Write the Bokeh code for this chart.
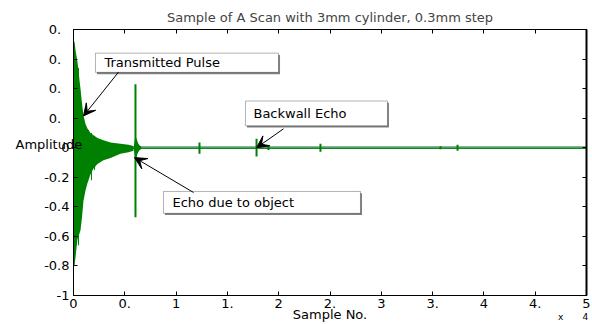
from bokeh.plotting import figure
from bokeh.models import (Range1d, LinearAxis, FixedTicker, Label, Arrow, VeeHead,
                          BoxAnnotation)
from bokeh.embed import file_html
from bokeh.resources import INLINE

# ---------------- data ----------------
title_text = "Sample of A Scan with 3mm cylinder, 0.3mm step"
x_label = "Sample No."
y_label = "Amplitude"

# transmitted pulse envelope (sample no., amplitude)
pulse_x = [0, 100, 200, 290, 390, 490, 580, 680, 830, 970, 1170, 1360, 1660, 1950,
           2340, 2920, 3610, 4580, 5360, 5850]
pulse_hi = [0.70, 0.72, 0.66, 0.62, 0.58, 0.52, 0.46, 0.40, 0.30, 0.22, 0.16, 0.13,
            0.10, 0.085, 0.065, 0.05, 0.035, 0.027, 0.02, 0.012]
pulse_lo = [-0.78, -0.80, -0.74, -0.68, -0.62, -0.60, -0.58, -0.56, -0.47, -0.36,
            -0.29, -0.24, -0.18, -0.14, -0.11, -0.085, -0.07, -0.04, -0.03, -0.02]

# thin excursions inside the pulse tail
tail_x = [490, 1460, 1750, 2050]
tail_hi = [0.54, 0.12, 0.10, 0.08]
tail_lo = [-0.66, -0.20, -0.22, -0.15]

# ringing around the object echo
ring_x = [5900, 6000, 6100, 6200, 6300, 6450, 6600]
ring_hi = [0.02, 0.06, 0.07, 0.05, 0.03, 0.015, 0.008]
ring_lo = [-0.02, -0.06, -0.08, -0.05, -0.03, -0.015, -0.008]

# isolated spikes (object echo, backwall echo, later reflections)
spike_x = [6040, 12280, 17840, 19000, 24070, 35770, 37430]
spike_hi = [0.43, 0.036, 0.06, 0.015, 0.027, 0.01, 0.02]
spike_lo = [-0.47, -0.04, -0.06, -0.015, -0.027, -0.01, -0.02]

# baseline traces
base_x = [0, 50000]
base_y = [0, 0]

x_ticks = [0, 5000, 10000, 15000, 20000, 25000, 30000, 35000, 40000, 45000, 50000]
x_tick_labels = ["0", "0.", "1", "1.", "2", "2.", "3", "3.", "4", "4.", "5"]
y_ticks = [-1, -0.8, -0.6, -0.4, -0.2, 0, 0.2, 0.4, 0.6, 0.8]
y_tick_labels = ["-1", "-0.8", "-0.6", "-0.4", "-0.2", "0",
                 "0.\u2007", "0.\u2007", "0.\u2007", "0.\u2007"]
# exponent note at the lower right ("x 10^4", mostly cut off in the original)
exp_pos = [47470, 49900]
exp_text = ["x", "4"]

FONT = "DejaVu Sans"
FS = "13px"
GREEN = "#008000"

p = figure(width=592, height=324, x_range=Range1d(0, 50000), y_range=Range1d(-1, 0.8),
           output_backend="svg", toolbar_location=None,
           min_border_left=73, min_border_right=6, min_border_top=29, min_border_bottom=27,
           background_fill_color="white", border_fill_color="white")
p.grid.visible = False
p.outline_line_color = "black"

p.title.text = title_text
p.title.align = "center"
p.title.text_font = FONT
p.title.text_font_size = FS
p.title.text_font_style = "normal"

def style_axis(ax, show_labels):
    ax.axis_line_color = "black"
    ax.major_tick_in = 4
    ax.major_tick_out = 0
    ax.minor_tick_line_color = None
    ax.minor_tick_in = 0
    ax.minor_tick_out = 0
    ax.major_tick_line_color = "black"
    ax.major_label_text_font = FONT
    ax.major_label_text_color = "black"
    ax.axis_label_text_font = FONT
    ax.axis_label_text_font_size = FS
    ax.axis_label_text_font_style = "normal"
    ax.axis_label_text_color = "black"
    if show_labels:
        ax.major_label_text_font_size = FS
        ax.major_label_standoff = 4
    else:
        ax.major_label_text_font_size = "1px"
        ax.major_label_text_color = None
        ax.major_label_standoff = 0

xa = p.xaxis[0]
xa.ticker = FixedTicker(ticks=x_ticks)
xa.major_label_overrides = dict(zip(x_ticks, x_tick_labels))
style_axis(xa, True)
xa.major_label_standoff = 3

ya = p.yaxis[0]
ya.ticker = FixedTicker(ticks=y_ticks)
ya.major_label_overrides = dict(zip(y_ticks, y_tick_labels))
style_axis(ya, True)
ya.axis_label = y_label + "\n\n"
ya.axis_label_orientation = "horizontal"
ya.axis_label_standoff = -41

top_ax = LinearAxis(ticker=FixedTicker(ticks=x_ticks))
style_axis(top_ax, False)
p.add_layout(top_ax, "above")
right_ax = LinearAxis(ticker=FixedTicker(ticks=y_ticks))
style_axis(right_ax, False)
right_ax.axis_line_width = 2
p.add_layout(right_ax, "right")

# second bare axis below: exponent note as tick labels + the x-axis title
exp_ax = LinearAxis(ticker=FixedTicker(ticks=exp_pos),
                    major_label_overrides=dict(zip(exp_pos, exp_text)))
exp_ax.axis_line_color = None
exp_ax.major_tick_line_color = None
exp_ax.minor_tick_line_color = None
exp_ax.major_tick_in = 0
exp_ax.major_tick_out = 0
exp_ax.minor_tick_in = 0
exp_ax.minor_tick_out = 0
exp_ax.major_label_text_font = FONT
exp_ax.major_label_text_font_size = "9px"
exp_ax.major_label_text_color = "black"
exp_ax.major_label_standoff = 1
exp_ax.axis_label = x_label
exp_ax.axis_label_text_font = FONT
exp_ax.axis_label_text_font_size = FS
exp_ax.axis_label_text_font_style = "normal"
exp_ax.axis_label_text_color = "black"
exp_ax.axis_label_standoff = -18
p.add_layout(exp_ax, "below")

# ---------------- signal ----------------
p.line(base_x, base_y, line_color=GREEN, line_width=2.5)
p.line(base_x, base_y, line_color="#8aa6cf", line_width=1, line_alpha=0.8)
p.varea(x=pulse_x, y1=pulse_lo, y2=pulse_hi, fill_color=GREEN)
p.segment(x0=tail_x, y0=tail_lo, x1=tail_x, y1=tail_hi, line_color=GREEN, line_width=1)
p.varea(x=ring_x, y1=ring_lo, y2=ring_hi, fill_color=GREEN)
p.segment(x0=spike_x, y0=spike_lo, x1=spike_x, y1=spike_hi, line_color=GREEN, line_width=2)

# ---------------- annotations ----------------
def text_box(left, right, top, bottom, text, tx):
    shadow = BoxAnnotation(left=left + 150, right=right + 150, top=top - 0.012,
                           bottom=bottom - 0.012, fill_color="#808080", fill_alpha=1,
                           line_color=None)
    box = BoxAnnotation(left=left, right=right, top=top, bottom=bottom,
                        fill_color="white", fill_alpha=1, line_color="black", line_width=1)
    p.add_layout(shadow)
    p.add_layout(box)
    p.add_layout(Label(x=tx, y=(top + bottom) / 2, text=text, text_font=FONT,
                       text_font_size=FS, text_baseline="middle", text_color="black"))

text_box(2140, 19980, 0.64, 0.51, "Transmitted Pulse", 3020)
text_box(16760, 30600, 0.316, 0.148, "Backwall Echo", 17540)
text_box(8770, 27970, -0.296, -0.444, "Echo due to object", 9650)

for xs, ys, xe, ye in [(4390, 0.512, 975, 0.215), (20470, 0.128, 17840, 0.0),
                       (11700, -0.303, 5950, -0.067)]:
    p.add_layout(Arrow(end=VeeHead(size=12, fill_color="black", line_color="black"),
                       x_start=xs, y_start=ys, x_end=xe, y_end=ye,
                       line_color="black", line_width=1))

open("out.html", "w").write(file_html(p, INLINE))
